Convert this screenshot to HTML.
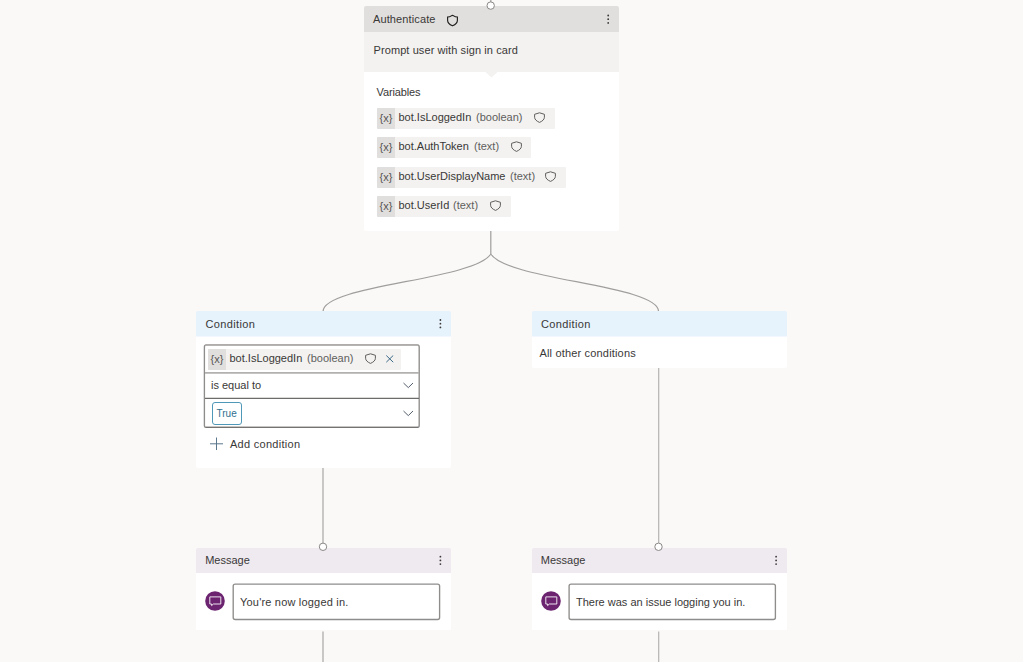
<!DOCTYPE html>
<html><head><meta charset="utf-8">
<style>
html,body{margin:0;padding:0;width:1023px;height:662px;overflow:hidden;background:#faf9f8;}
body{position:relative;font-family:"Liberation Sans",sans-serif;color:#323130;}
.a{position:absolute;}
.t{position:absolute;font-size:11px;line-height:13px;white-space:nowrap;color:#393837;}
.sec{color:#605e5c;}
.dots{position:absolute;width:2px;}
.dots i{display:block;width:1.6px;height:1.6px;border-radius:50%;background:#323130;margin-bottom:2.2px;}
.chip{position:absolute;height:21px;background:#f3f2f1;border-radius:1px;}
.chip .x{position:absolute;left:0;top:0;width:18px;height:21px;background:#e1dfdd;border-radius:1px 0 0 1px;}
.chip .x span{position:absolute;left:2.5px;top:4px;font-size:11px;line-height:13px;color:#575553;}
</style></head><body>

<svg class="a" style="left:0;top:0" width="1023" height="662" viewBox="0 0 1023 662">
  <g fill="none" stroke="#a09e9c" stroke-width="1.2">
    <line x1="490.8" y1="0" x2="490.8" y2="2"/>
    <path d="M490.8 230 V254 C474.8 280 323 285 323 311.5"/>
    <path d="M490.8 254 C506.8 280 658.6 285 658.6 311.5"/>
  </g>
  <g fill="none" stroke="#a8a6a4" stroke-width="1.2">
    <line x1="323" y1="467" x2="323" y2="543"/>
    <line x1="323" y1="631.5" x2="323" y2="662"/>
  </g>
  <g fill="none" stroke="#b5b3b1" stroke-width="1.2">
    <line x1="658.7" y1="368" x2="658.7" y2="543"/>
    <line x1="658.7" y1="631.5" x2="658.7" y2="662"/>
  </g>
</svg>

<!-- Authenticate card -->
<div class="a" style="left:364px;top:6px;width:255px;height:26px;background:#e1dfdd;border-radius:2px 2px 0 0"></div>
<div class="a" style="left:364px;top:32px;width:255px;height:40px;background:#f3f2f1"></div>
<div class="a" style="left:364px;top:72px;width:255px;height:159px;background:#fff;border-radius:0 0 2px 2px"></div>
<svg class="a" style="left:485px;top:72px" width="13" height="7" viewBox="0 0 13 7"><path d="M0.5 0 L6.5 5.5 L12.5 0 Z" fill="#f3f2f1"/></svg>
<svg class="a" style="left:486px;top:1px" width="10" height="10" viewBox="0 0 10 10"><circle cx="4.7" cy="4.6" r="3.7" fill="#fff" stroke="#8a8886" stroke-width="1"/></svg>

<div class="t" style="left:373px;top:13px;letter-spacing:0.12px">Authenticate</div>
<svg class="a" style="left:446px;top:14px" width="13" height="13" viewBox="0 0 13 13"><path d="M1.6 3 C3.3 3 4.5 2.5 5.3 1.9 Q6.5 1 7.7 1.9 C8.5 2.5 9.7 3 11.4 3 V6.3 C11.4 8.8 9.6 10.6 6.5 11.8 C3.4 10.6 1.6 8.8 1.6 6.3 Z" fill="none" stroke="#201f1e" stroke-width="1.15"/></svg>
<svg class="a" style="left:605px;top:12px" width="7" height="14" viewBox="605 12 7 14"><g fill="#3a3937"><circle cx="608.2" cy="15.5" r="0.9"/><circle cx="608.2" cy="19.20" r="0.9"/><circle cx="608.2" cy="22.90" r="0.9"/></g></svg>

<div class="t" style="left:373.5px;top:43.5px;letter-spacing:0.09px">Prompt user with sign in card</div>
<div class="t" style="left:376.5px;top:86px;letter-spacing:-0.12px">Variables</div>

<div class="chip" style="left:377px;top:108px;width:178px"><div class="x"><span>{x}</span></div></div>
<div class="t" style="left:398.5px;top:110.5px">bot.IsLoggedIn</div><div class="t sec" style="left:476px;top:110.5px">(boolean)</div>
<div class="chip" style="left:377px;top:137px;width:154px"><div class="x"><span>{x}</span></div></div>
<div class="t" style="left:398.5px;top:140px">bot.AuthToken</div><div class="t sec" style="left:474px;top:140px">(text)</div>
<div class="chip" style="left:377px;top:167px;width:189px"><div class="x"><span>{x}</span></div></div>
<div class="t" style="left:398.5px;top:169.5px">bot.UserDisplayName</div><div class="t sec" style="left:510px;top:169.5px">(text)</div>
<div class="chip" style="left:377px;top:196px;width:134px"><div class="x"><span>{x}</span></div></div>
<div class="t" style="left:398.5px;top:199px">bot.UserId</div><div class="t sec" style="left:453px;top:199px">(text)</div>

<!-- Left condition -->
<div class="a" style="left:196px;top:311px;width:255px;height:25px;background:#e6f2fc;border-radius:2px 2px 0 0"></div>
<div class="a" style="left:196px;top:336px;width:255px;height:131.5px;background:#fff;border-radius:0 0 2px 2px"></div>
<div class="a" style="left:196px;top:336px;width:255px;height:1px;background:#f2f8fe"></div>
<div class="t" style="left:205.5px;top:318px;letter-spacing:0.37px">Condition</div>
<svg class="a" style="left:437px;top:317px" width="7" height="14" viewBox="437 317 7 14"><g fill="#3a3937"><circle cx="440.4" cy="320.0" r="0.9"/><circle cx="440.4" cy="323.70" r="0.9"/><circle cx="440.4" cy="327.40" r="0.9"/></g></svg>

<!-- Right condition -->
<div class="a" style="left:532px;top:311px;width:255px;height:25px;background:#e6f2fc;border-radius:2px 2px 0 0"></div>
<div class="a" style="left:532px;top:336px;width:255px;height:32px;background:#fff;border-radius:0 0 2px 2px"></div>
<div class="a" style="left:532px;top:336px;width:255px;height:1px;background:#f2f8fe"></div>
<div class="t" style="left:541px;top:318px;letter-spacing:0.37px">Condition</div>
<div class="t" style="left:539.5px;top:346.5px;letter-spacing:0.17px">All other conditions</div>

<!-- Left message -->
<div class="a" style="left:196px;top:548px;width:255px;height:25px;background:#efe9f0;border-radius:2px 2px 0 0"></div>
<div class="a" style="left:196px;top:573px;width:255px;height:57px;background:#fff"></div>
<div class="t" style="left:205.2px;top:554px">Message</div>
<svg class="a" style="left:437px;top:553px" width="7" height="14" viewBox="437 553 7 14"><g fill="#3a3937"><circle cx="440.4" cy="556.7" r="0.9"/><circle cx="440.4" cy="560.40" r="0.9"/><circle cx="440.4" cy="564.10" r="0.9"/></g></svg>

<!-- Right message -->
<div class="a" style="left:532px;top:548px;width:255px;height:25px;background:#efe9f0;border-radius:2px 2px 0 0"></div>
<div class="a" style="left:532px;top:573px;width:255px;height:57px;background:#fff"></div>
<div class="t" style="left:540.8px;top:554px">Message</div>
<svg class="a" style="left:773px;top:553px" width="7" height="14" viewBox="773 553 7 14"><g fill="#3a3937"><circle cx="776.1" cy="556.7" r="0.9"/><circle cx="776.1" cy="560.40" r="0.9"/><circle cx="776.1" cy="564.10" r="0.9"/></g></svg>

<!-- chip shields -->
<svg class="a" style="left:533px;top:111px" width="13" height="13" viewBox="0 0 13 13"><path d="M1.6 3.3 Q6.5 0.3 11.4 3.3 V6.3 C11.4 8.5 9.3 10.2 6.5 11.4 C3.7 10.2 1.6 8.5 1.6 6.3 Z" fill="none" stroke="#605e5c" stroke-width="1"/></svg>
<svg class="a" style="left:509.5px;top:140px" width="13" height="13" viewBox="0 0 13 13"><path d="M1.6 3.3 Q6.5 0.3 11.4 3.3 V6.3 C11.4 8.5 9.3 10.2 6.5 11.4 C3.7 10.2 1.6 8.5 1.6 6.3 Z" fill="none" stroke="#605e5c" stroke-width="1"/></svg>
<svg class="a" style="left:543.5px;top:169.5px" width="13" height="13" viewBox="0 0 13 13"><path d="M1.6 3.3 Q6.5 0.3 11.4 3.3 V6.3 C11.4 8.5 9.3 10.2 6.5 11.4 C3.7 10.2 1.6 8.5 1.6 6.3 Z" fill="none" stroke="#605e5c" stroke-width="1"/></svg>
<svg class="a" style="left:488.5px;top:199px" width="13" height="13" viewBox="0 0 13 13"><path d="M1.6 3.3 Q6.5 0.3 11.4 3.3 V6.3 C11.4 8.5 9.3 10.2 6.5 11.4 C3.7 10.2 1.6 8.5 1.6 6.3 Z" fill="none" stroke="#605e5c" stroke-width="1"/></svg>

<!-- condition box -->
<svg class="a" style="left:0;top:0" width="1023" height="662" viewBox="0 0 1023 662">
  <rect x="204.4" y="344.9" width="214.8" height="82.5" rx="2" fill="#fff" stroke="#8f8d8b" stroke-width="1.35"/>
  <line x1="205.5" y1="344.9" x2="418.3" y2="344.9" stroke="#b0aeac" stroke-width="1.5"/>
  <line x1="205" y1="372.9" x2="419" y2="372.9" stroke="#b3b1af" stroke-width="1.8"/>
  <line x1="205" y1="398.4" x2="419" y2="398.4" stroke="#6e6c6a" stroke-width="1.3"/>
  <line x1="206" y1="427.3" x2="418" y2="427.3" stroke="#757371" stroke-width="1.25"/>
</svg>
<div class="chip" style="left:208px;top:349px;width:193px;height:20.5px"><div class="x" style="height:20.5px"><span>{x}</span></div></div>
<div class="t" style="left:229.5px;top:351.5px">bot.IsLoggedIn</div><div class="t sec" style="left:307px;top:351.5px">(boolean)</div>
<svg class="a" style="left:364px;top:352px" width="13" height="13" viewBox="0 0 13 13"><path d="M1.6 3.3 Q6.5 0.3 11.4 3.3 V6.3 C11.4 8.5 9.3 10.2 6.5 11.4 C3.7 10.2 1.6 8.5 1.6 6.3 Z" fill="none" stroke="#605e5c" stroke-width="1"/></svg>
<svg class="a" style="left:385px;top:355px" width="9" height="9" viewBox="0 0 9 9"><path d="M1.3 0.5 L8.2 7.2 M8.2 0.5 L1.3 7.2" stroke="#3c6a85" stroke-width="1" fill="none"/></svg>
<div class="t" style="left:211px;top:379px">is equal to</div>
<svg class="a" style="left:402px;top:381px" width="12" height="8" viewBox="0 0 12 8"><path d="M1.5 2 L6.3 6.6 L11 2" stroke="#55606e" stroke-width="1" fill="none"/></svg>
<svg class="a" style="left:402px;top:409px" width="12" height="8" viewBox="0 0 12 8"><path d="M1.5 2 L6.3 6.6 L11 2" stroke="#55606e" stroke-width="1" fill="none"/></svg>
<div class="a" style="left:212px;top:402px;width:27.5px;height:20.5px;border:1px solid #4f98b8;border-radius:3px;background:#fff"></div>
<div class="t" style="left:216.5px;top:407px;font-size:10px;color:#2f6f8e">True</div>
<svg class="a" style="left:209px;top:437px" width="15" height="14" viewBox="0 0 15 14"><path d="M7.5 0.5 V13 M1 6.8 H14" stroke="#5a778c" stroke-width="1" fill="none"/></svg>
<div class="t" style="left:230px;top:437.5px;letter-spacing:0.28px">Add condition</div>

<!-- message connectors -->
<svg class="a" style="left:317px;top:541px" width="12" height="12" viewBox="0 0 12 12"><circle cx="6" cy="5.8" r="3.7" fill="#fff" stroke="#8a8886" stroke-width="1"/></svg>
<svg class="a" style="left:653px;top:541px" width="12" height="12" viewBox="0 0 12 12"><circle cx="5.5" cy="5.8" r="3.7" fill="#fff" stroke="#8a8886" stroke-width="1"/></svg>

<!-- message contents -->
<svg class="a" style="left:205px;top:590.5px" width="20" height="20" viewBox="0 0 20 20"><circle cx="10" cy="10" r="9.8" fill="#6c2470"/><path d="M4.8 5.9 H15.8 V13 H8.4 L6.6 14.6 V13 H4.8 Z" fill="none" stroke="#f4ecf4" stroke-width="0.95" stroke-linejoin="miter"/></svg>
<svg class="a" style="left:230px;top:581px" width="214" height="42" viewBox="230 581 214 42"><rect x="233.2" y="584.1" width="206.4" height="35.4" rx="2" fill="#fff" stroke="#8f8d8b" stroke-width="1.35"/></svg>
<div class="t" style="left:240px;top:596px;letter-spacing:0.19px">You're now logged in.</div>

<svg class="a" style="left:541px;top:590.5px" width="20" height="20" viewBox="0 0 20 20"><circle cx="10" cy="10" r="9.8" fill="#6c2470"/><path d="M4.8 5.9 H15.8 V13 H8.4 L6.6 14.6 V13 H4.8 Z" fill="none" stroke="#f4ecf4" stroke-width="0.95" stroke-linejoin="miter"/></svg>
<svg class="a" style="left:566px;top:581px" width="214" height="42" viewBox="566 581 214 42"><rect x="569.1" y="584.1" width="206.3" height="35.4" rx="2" fill="#fff" stroke="#8f8d8b" stroke-width="1.35"/></svg>
<div class="t" style="left:576px;top:596px">There was an issue logging you in.</div>

</body></html>
